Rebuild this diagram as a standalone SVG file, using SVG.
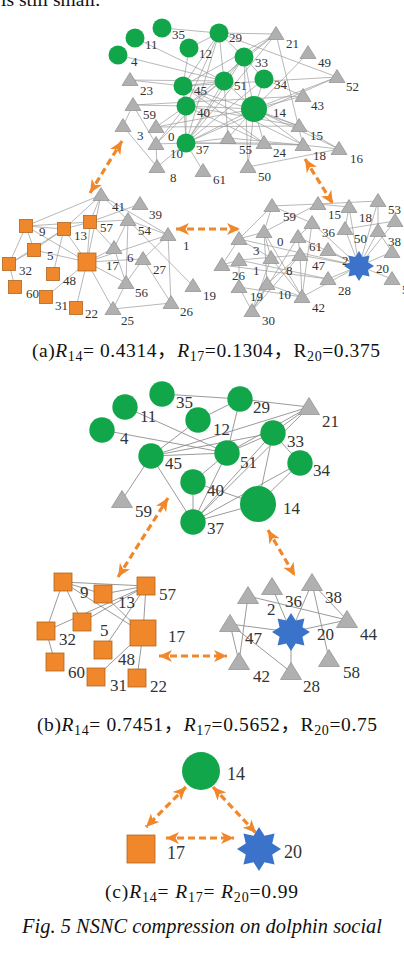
<svg xmlns="http://www.w3.org/2000/svg" xmlns:xlink="http://www.w3.org/1999/xlink" width="404" height="970" viewBox="0 0 404 970">
<style>
.e{stroke:#9a9a9a;stroke-width:0.7;fill:none}
.eb{stroke:#8f8f8f;stroke-width:0.9;fill:none}
.g{fill:#12a64b}
.o{fill:#f0872a;stroke:#b0651f;stroke-width:0.8}
.t{fill:#b0b0b0;stroke:#8e8e8e;stroke-width:0.7}
.s{fill:#3a73c9}
.la{font-family:"Liberation Serif",serif;font-size:13px;fill:#333}
.lb{font-family:"Liberation Serif",serif;font-size:17px;fill:#333}
.lc{font-family:"Liberation Serif",serif;font-size:18px;fill:#333}
.cap{font-family:"Liberation Serif","Noto Sans CJK SC",serif;font-size:19.5px;fill:#111}
.fig{font-family:"Liberation Serif",serif;font-size:20.4px;font-style:italic;fill:#111}
.sub{font-size:14px}
.arr{stroke:#f0872a;stroke-width:3.2;stroke-dasharray:7 4;fill:none;marker-start:url(#ah);marker-end:url(#ah)}
</style>
<defs>
<marker id="ah" markerUnits="userSpaceOnUse" markerWidth="14" markerHeight="13" refX="13" refY="6" orient="auto-start-reverse" viewBox="0 0 14 12"><path d="M0,0L13,6L0,12L3.5,6Z" fill="#f0872a"/></marker>
<path id="ta" class="t" d="M0,-7.5L8,5.5L-8,5.5Z"/>
<path id="tb" class="t" d="M0,-9.5L10.5,7.5L-10.5,7.5Z"/>
<polygon id="st" class="s" points="0,-10 2.49,-6.01 7.07,-7.07 6.01,-2.49 10,0 6.01,2.49 7.07,7.07 2.49,6.01 0,10 -2.49,6.01 -7.07,7.07 -6.01,2.49 -10,0 -6.01,-2.49 -7.07,-7.07 -2.49,-6.01"/>
</defs>
<rect width="404" height="970" fill="#fff"/>
<text x="1" y="6" class="cap">is still small.</text>

<g id="connectors">
<path class="e" d="M162,28L219,33M219,33L276,34M135,38L224,81M118,55L224,81M189,48L219,33M219,33L244,57M219,33L224,81M219,33L183,86M219,33L186,106M219,33L186,143M219,33L337,77M276,34L244,57M276,34L183,86M276,34L186,143M276,34L186,106M276,34L303,145M308,53L254,109M337,77L254,109M337,77L183,86M337,77L186,143M130,80L183,86M130,80L224,81M183,86L224,81M183,86L189,48M183,86L186,106M183,86L186,143M183,86L299,126M183,86L303,145M183,86L264,143M224,81L244,57M224,81L254,109M224,81L186,106M224,81L186,143M224,81L228,138M244,57L264,79M244,57L254,109M244,57L186,143M244,57L248,167M244,57L156,144M264,79L303,96M264,79L254,109M264,79L186,143M303,96L254,109M133,105L303,96M133,105L123,126M133,105L186,106M133,105L156,144M123,126L157,167M156,127L186,106M156,127L299,126M156,127L254,109M156,144L186,143M156,144L186,106M186,106L186,143M186,106L254,109M186,106L299,126M186,106L264,143M254,109L186,143M254,109L299,126M254,109L303,145M254,109L264,143M254,109L228,138M254,109L248,167M254,109L339,149M186,143L303,145M186,143L203,171M186,143L264,143M186,143L228,138M186,143L157,167M228,138L303,145M303,145L339,149M248,167L339,149M264,143L303,145M299,126L339,149M156,144L157,167"/>
<path class="e" d="M26,226L101,195M26,226L64,229M26,226L90,222M26,226L34,250M26,226L9,264M26,226L87,262M64,229L90,222M64,229L101,195M64,229L34,250M64,229L9,264M64,229L87,262M64,229L53,274M90,222L101,195M90,222L128,220M90,222L114,248M90,222L87,262M101,195L128,220M101,195L168,235M101,195L87,262M140,204L90,222M128,220L114,248M128,220L126,283M128,220L193,286M128,220L168,235M168,235L87,262M168,235L143,259M168,235L171,303M114,248L87,262M114,248L126,283M87,262L143,259M87,262L34,250M87,262L46,297M87,262L76,308M87,262L113,309M87,262L126,283M143,259L126,283M143,259L171,303M113,309L171,303M113,309L126,283M9,264L15,287M34,250L9,264"/>
<path class="e" d="M272,206L318,204M272,206L239,239M272,206L312,223M272,206L264,232M318,204L349,207M318,204L264,232M318,204L378,201M349,207L359,266M349,207L345,229M378,201L359,266M378,201L378,231M395,221L359,266M395,221L345,229M312,223L359,266M312,223L298,237M312,223L302,297M345,229L359,266M378,231L359,266M378,231L392,252M392,252L359,266M392,279L359,266M264,232L271,258M264,232L302,297M264,232L267,284M264,232L239,239M239,239L359,266M239,239L222,265M239,239L271,258M298,237L359,266M298,237L300,255M298,237L252,311M328,250L359,266M300,255L359,266M300,255L267,284M300,255L252,311M300,255L302,297M271,258L302,297M271,258L252,311M222,265L328,279M239,260L300,255M239,287L252,311M239,287L302,297M267,284L252,311M267,284L302,297M302,297L359,266M328,279L359,266M239,260L328,279M239,287L239,260M222,265L239,260"/>
<path class="eb" d="M162,394L240,399M240,399L309,407M240,399L198,420M240,399L227,453M125,407L227,453M102,430L227,453M151,456L198,420M151,456L227,453M151,456L309,407M151,456L273,433M151,456L122,500M151,456L193,522M227,453L193,482M227,453L273,433M227,453L193,522M227,453L309,407M273,433L309,407M273,433L300,463M273,433L258,504M273,433L193,522M309,407L193,522M300,463L258,504M300,463L193,522M193,482L193,522M193,482L258,504M258,504L193,522"/>
<path class="eb" d="M63,582L103,594M63,582L146,586M63,582L143,633M63,582L82,622M63,582L46,631M103,594L146,586M103,594L143,633M146,586L46,631M146,586L82,622M146,586L103,650M146,586L143,633M143,633L96,677M143,633L137,678M46,631L55,662"/>
<path class="eb" d="M248,596L347,620M248,596L239,662M230,624L291,632M230,624L239,662M230,624L291,672M291,632L272,587M291,632L312,583M291,632L347,620M291,632L291,672M312,583L347,620M312,583L329,659"/>
<path class="arr" d="M90,193L122,141"/>
<path class="arr" d="M305,159L333,204"/>
<path class="arr" d="M176,229L240,229"/>
<path class="arr" d="M118,577L168,498"/>
<path class="arr" d="M268,530L295,576"/>
<path class="arr" d="M159,656L227,656"/>
<path class="arr" d="M186,787L146,827"/>
<path class="arr" d="M213,787L256,833"/>
<path class="arr" d="M166,838L234,838"/>
</g>

<!-- panel a top -->
<g id="a35"><circle class="g" cx="162" cy="28" r="9.5"/><text class="la" x="172" y="38.5">35</text></g>
<g id="a11"><circle class="g" cx="135" cy="38" r="9.5"/><text class="la" x="145" y="48.5">11</text></g>
<g id="a4"><circle class="g" cx="118" cy="55" r="9.5"/><text class="la" x="131" y="66">4</text></g>
<g id="a12"><circle class="g" cx="189" cy="48" r="9.5"/><text class="la" x="199" y="58">12</text></g>
<g id="a29"><circle class="g" cx="219" cy="33" r="9.5"/><text class="la" x="229" y="42">29</text></g>
<g id="a21"><use href="#ta" x="276" y="34"/><text class="la" x="286" y="48">21</text></g>
<g id="a33"><circle class="g" cx="244" cy="57" r="9.5"/><text class="la" x="255" y="66.5">33</text></g>
<g id="a49"><use href="#ta" x="308" y="53"/><text class="la" x="318" y="66.5">49</text></g>
<g id="a23"><use href="#ta" x="130" y="80"/><text class="la" x="140" y="94.5">23</text></g>
<g id="a45"><circle class="g" cx="183" cy="86" r="9.5"/><text class="la" x="194" y="95">45</text></g>
<g id="a51"><circle class="g" cx="224" cy="81" r="9.5"/><text class="la" x="234" y="89.5">51</text></g>
<g id="a34"><circle class="g" cx="264" cy="79" r="9.5"/><text class="la" x="274" y="88.5">34</text></g>
<g id="a52"><use href="#ta" x="337" y="77"/><text class="la" x="346" y="90.5">52</text></g>
<g id="a43"><use href="#ta" x="303" y="96"/><text class="la" x="311" y="109.5">43</text></g>
<g id="a59"><use href="#ta" x="133" y="105"/><text class="la" x="143" y="118.5">59</text></g>
<g id="a40"><circle class="g" cx="186" cy="106" r="9.5"/><text class="la" x="197" y="117">40</text></g>
<g id="a14"><circle class="g" cx="254" cy="109" r="13"/><text class="la" x="273" y="116.5">14</text></g>
<g id="a3"><use href="#ta" x="123" y="126"/><text class="la" x="137" y="140">3</text></g>
<g id="a0"><use href="#ta" x="156" y="127"/><text class="la" x="168" y="141">0</text></g>
<g id="a15"><use href="#ta" x="299" y="126"/><text class="la" x="310" y="140">15</text></g>
<g id="a10"><use href="#ta" x="156" y="144"/><text class="la" x="170" y="158">10</text></g>
<g id="a37"><circle class="g" cx="186" cy="143" r="9.5"/><text class="la" x="196" y="153.5">37</text></g>
<g id="a55"><use href="#ta" x="228" y="138"/><text class="la" x="239" y="153.5">55</text></g>
<g id="a24"><use href="#ta" x="264" y="143"/><text class="la" x="273" y="156.5">24</text></g>
<g id="a18"><use href="#ta" x="303" y="145"/><text class="la" x="313" y="159.5">18</text></g>
<g id="a16"><use href="#ta" x="339" y="149"/><text class="la" x="350" y="163">16</text></g>
<g id="a8"><use href="#ta" x="157" y="167"/><text class="la" x="170" y="181.5">8</text></g>
<g id="a61"><use href="#ta" x="203" y="171"/><text class="la" x="213" y="184">61</text></g>
<g id="a50"><use href="#ta" x="248" y="167"/><text class="la" x="258" y="180.5">50</text></g>

<!-- panel a bottom-left -->
<g id="b9"><rect class="o" x="19.5" y="219.5" width="13" height="13"/><text class="la" x="39" y="236">9</text></g>
<g id="b13"><rect class="o" x="57.5" y="222.5" width="13" height="13"/><text class="la" x="74" y="240">13</text></g>
<g id="b57"><rect class="o" x="83.5" y="215.5" width="13" height="13"/><text class="la" x="100" y="232">57</text></g>
<g id="b41"><use href="#ta" x="101" y="195"/><text class="la" x="112" y="210.5">41</text></g>
<g id="b39"><use href="#ta" x="140" y="204"/><text class="la" x="149" y="218.5">39</text></g>
<g id="b54"><use href="#ta" x="128" y="220"/><text class="la" x="138" y="235">54</text></g>
<g id="b1"><use href="#ta" x="168" y="235"/><text class="la" x="183" y="249.5">1</text></g>
<g id="b5"><rect class="o" x="27.5" y="243.5" width="13" height="13"/><text class="la" x="47" y="259.5">5</text></g>
<g id="b32"><rect class="o" x="2.5" y="257.5" width="13" height="13"/><text class="la" x="19" y="275">32</text></g>
<g id="b6"><use href="#ta" x="114" y="248"/><text class="la" x="127" y="262">6</text></g>
<g id="b17"><rect class="o" x="78" y="253" width="18" height="18"/><text class="la" x="106" y="269.5">17</text></g>
<g id="b27"><use href="#ta" x="143" y="259"/><text class="la" x="153" y="274">27</text></g>
<g id="b48"><rect class="o" x="46.5" y="267.5" width="13" height="13"/><text class="la" x="63" y="285">48</text></g>
<g id="b56"><use href="#ta" x="126" y="283"/><text class="la" x="135" y="297">56</text></g>
<g id="b19"><use href="#ta" x="193" y="286"/><text class="la" x="203" y="299.5">19</text></g>
<g id="b60"><rect class="o" x="8.5" y="280.5" width="13" height="13"/><text class="la" x="26" y="298">60</text></g>
<g id="b31"><rect class="o" x="39.5" y="290.5" width="13" height="13"/><text class="la" x="55" y="310">31</text></g>
<g id="b22"><rect class="o" x="69.5" y="301.5" width="13" height="13"/><text class="la" x="85" y="317.5">22</text></g>
<g id="b26"><use href="#ta" x="171" y="303"/><text class="la" x="180" y="316">26</text></g>
<g id="b25"><use href="#ta" x="113" y="309"/><text class="la" x="121" y="324.5">25</text></g>

<!-- panel a bottom-right -->
<g id="c59"><use href="#ta" x="272" y="206"/><text class="la" x="283" y="220.5">59</text></g>
<g id="c15"><use href="#ta" x="318" y="204"/><text class="la" x="328" y="219">15</text></g>
<g id="c18"><use href="#ta" x="349" y="207"/><text class="la" x="359" y="221.5">18</text></g>
<g id="c53"><use href="#ta" x="378" y="201"/><text class="la" x="388" y="214">53</text></g>
<g id="cx1"><use href="#ta" x="395" y="221"/></g>
<g id="c36"><use href="#ta" x="312" y="223"/><text class="la" x="322" y="236.5">36</text></g>
<g id="c50"><use href="#ta" x="345" y="229"/><text class="la" x="354" y="242.5">50</text></g>
<g id="c38"><use href="#ta" x="378" y="231"/><text class="la" x="388" y="246">38</text></g>
<g id="c3"><use href="#ta" x="239" y="239"/><text class="la" x="253" y="255">3</text></g>
<g id="c0"><use href="#ta" x="264" y="232"/><text class="la" x="277" y="246">0</text></g>
<g id="c61"><use href="#ta" x="298" y="237"/><text class="la" x="309" y="250.5">61</text></g>
<g id="c2"><use href="#ta" x="328" y="250"/><text class="la" x="342" y="265">2</text></g>
<g id="cx2"><use href="#ta" x="392" y="252"/></g>
<g id="c26"><use href="#ta" x="222" y="265"/><text class="la" x="232" y="280">26</text></g>
<g id="c1"><use href="#ta" x="239" y="260"/><text class="la" x="253" y="275">1</text></g>
<g id="c8"><use href="#ta" x="271" y="258"/><text class="la" x="286" y="274.5">8</text></g>
<g id="c47"><use href="#ta" x="300" y="255"/><text class="la" x="312" y="270">47</text></g>
<g id="c19"><use href="#ta" x="239" y="287"/><text class="la" x="250" y="300.5">19</text></g>
<g id="c10"><use href="#ta" x="267" y="284"/><text class="la" x="278" y="299">10</text></g>
<g id="c28"><use href="#ta" x="328" y="279"/><text class="la" x="338" y="295">28</text></g>
<g id="cx3"><use href="#ta" x="392" y="279"/><text class="la" x="402" y="293.5">5</text></g>
<g id="c42"><use href="#ta" x="302" y="297"/><text class="la" x="312" y="311.5">42</text></g>
<g id="c30"><use href="#ta" x="252" y="311"/><text class="la" x="262" y="325">30</text></g>
<g id="c20"><use href="#st" transform="translate(359,266) scale(1.5)"/><text class="la" x="376" y="272.5">20</text></g>

<text class="cap" x="32" y="357" textLength="348">(a)<tspan font-style="italic">R</tspan><tspan class="sub" dy="4">14</tspan><tspan dy="-4">= 0.4314，</tspan><tspan font-style="italic">R</tspan><tspan class="sub" dy="4">17</tspan><tspan dy="-4">=0.1304，R</tspan><tspan class="sub" dy="4">20</tspan><tspan dy="-4">=0.375</tspan></text>

<!-- panel b top -->
<g id="p35"><circle class="g" cx="162" cy="394" r="12.7"/><text class="lb" x="176" y="408">35</text></g>
<g id="p11"><circle class="g" cx="125" cy="407" r="12.7"/><text class="lb" x="140" y="422">11</text></g>
<g id="p4"><circle class="g" cx="102" cy="430" r="12.7"/><text class="lb" x="120" y="444">4</text></g>
<g id="p12"><circle class="g" cx="198" cy="420" r="12.7"/><text class="lb" x="213" y="435">12</text></g>
<g id="p29"><circle class="g" cx="240" cy="399" r="12.7"/><text class="lb" x="253" y="413">29</text></g>
<g id="p21"><use href="#tb" x="309" y="407"/><text class="lb" x="322" y="427">21</text></g>
<g id="p33"><circle class="g" cx="273" cy="433" r="12.7"/><text class="lb" x="287" y="447">33</text></g>
<g id="p45"><circle class="g" cx="151" cy="456" r="12.7"/><text class="lb" x="165" y="469">45</text></g>
<g id="p51"><circle class="g" cx="227" cy="453" r="12.7"/><text class="lb" x="240" y="468">51</text></g>
<g id="p34"><circle class="g" cx="300" cy="463" r="12.7"/><text class="lb" x="313" y="476">34</text></g>
<g id="p40"><circle class="g" cx="193" cy="482" r="12.7"/><text class="lb" x="207" y="496">40</text></g>
<g id="p59"><use href="#tb" x="122" y="500"/><text class="lb" x="135" y="517">59</text></g>
<g id="p14"><circle class="g" cx="258" cy="504" r="18"/><text class="lb" x="283" y="514">14</text></g>
<g id="p37"><circle class="g" cx="193" cy="522" r="12.7"/><text class="lb" x="207" y="534">37</text></g>

<!-- panel b bottom-left -->
<g id="q9"><rect class="o" x="54" y="573" width="18" height="18"/><text class="lb" x="80" y="598">9</text></g>
<g id="q13"><rect class="o" x="94" y="585" width="18" height="18"/><text class="lb" x="118" y="608">13</text></g>
<g id="q57"><rect class="o" x="137" y="577" width="18" height="18"/><text class="lb" x="159" y="600">57</text></g>
<g id="q32"><rect class="o" x="37" y="622" width="18" height="18"/><text class="lb" x="59" y="645">32</text></g>
<g id="q5"><rect class="o" x="73" y="613" width="18" height="18"/><text class="lb" x="100" y="636">5</text></g>
<g id="q17"><rect class="o" x="130" y="620" width="26" height="26"/><text class="lb" x="168" y="642">17</text></g>
<g id="q60"><rect class="o" x="46" y="653" width="18" height="18"/><text class="lb" x="68" y="678">60</text></g>
<g id="q48"><rect class="o" x="94" y="641" width="18" height="18"/><text class="lb" x="118" y="665">48</text></g>
<g id="q31"><rect class="o" x="87" y="668" width="18" height="18"/><text class="lb" x="110" y="691">31</text></g>
<g id="q22"><rect class="o" x="128" y="669" width="18" height="18"/><text class="lb" x="150" y="692">22</text></g>

<!-- panel b bottom-right -->
<g id="r2"><use href="#tb" x="248" y="596"/><text class="lb" x="267" y="615">2</text></g>
<g id="r36"><use href="#tb" x="272" y="587"/><text class="lb" x="285" y="607">36</text></g>
<g id="r38"><use href="#tb" x="312" y="583"/><text class="lb" x="325" y="603">38</text></g>
<g id="r47"><use href="#tb" x="230" y="624"/><text class="lb" x="245" y="644">47</text></g>
<g id="r44"><use href="#tb" x="347" y="620"/><text class="lb" x="360" y="640">44</text></g>
<g id="r42"><use href="#tb" x="239" y="662"/><text class="lb" x="253" y="682">42</text></g>
<g id="r28"><use href="#tb" x="291" y="672"/><text class="lb" x="303" y="692">28</text></g>
<g id="r58"><use href="#tb" x="329" y="659"/><text class="lb" x="343" y="678">58</text></g>
<g id="r20"><use href="#st" transform="translate(291,632) scale(1.9)"/><text class="lb" x="317" y="640">20</text></g>

<text class="cap" x="37" y="731" textLength="340">(b)<tspan font-style="italic">R</tspan><tspan class="sub" dy="4">14</tspan><tspan dy="-4">= 0.7451，</tspan><tspan font-style="italic">R</tspan><tspan class="sub" dy="4">17</tspan><tspan dy="-4">=0.5652，R</tspan><tspan class="sub" dy="4">20</tspan><tspan dy="-4">=0.75</tspan></text>

<!-- panel c -->
<g id="s14"><circle class="g" cx="201" cy="771" r="19"/><text class="lc" x="227" y="780">14</text></g>
<g id="s17"><rect class="o" x="127" y="835" width="28" height="28"/><text class="lc" x="167" y="859">17</text></g>
<g id="s20"><use href="#st" transform="translate(259,849) scale(2.2)"/><text class="lc" x="284" y="858">20</text></g>

<text class="cap" x="105" y="898" textLength="193">(c)<tspan font-style="italic">R</tspan><tspan class="sub" dy="4">14</tspan><tspan dy="-4">= </tspan><tspan font-style="italic">R</tspan><tspan class="sub" dy="4">17</tspan><tspan dy="-4">= </tspan><tspan font-style="italic">R</tspan><tspan class="sub" dy="4">20</tspan><tspan dy="-4">=0.99</tspan></text>

<text class="fig" x="22" y="933" textLength="360">Fig. 5 NSNC compression on dolphin social</text>
</svg>
